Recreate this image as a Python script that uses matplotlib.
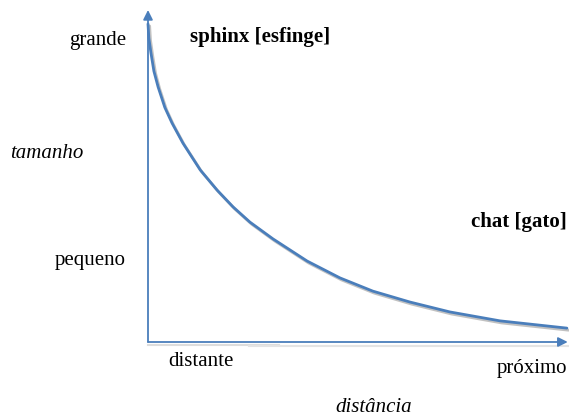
import matplotlib.pyplot as plt
import matplotlib.patheffects as pe

# curve (distance -> size, arbitrary units)
distancia = [0, 0.02, 0.07, 0.14, 0.24, 0.40, 0.57, 0.83, 1.24, 1.64, 2.02, 2.42, 2.97, 3.78, 4.56, 5.34, 6.22, 7.17, 8.36, 9.95]
tamanho = [9.63, 9.2, 8.75, 8.2, 7.72, 7.1, 6.63, 6.02, 5.21, 4.60, 4.09, 3.63, 3.12, 2.45, 1.94, 1.54, 1.21, 0.91, 0.64, 0.42]

W, H = 569, 416
fig = plt.figure(figsize=(W / 100, H / 100), dpi=100)
plt.rcParams['font.family'] = ['Liberation Serif', 'DejaVu Serif']

x0, y0 = 148, 342
ax = fig.add_axes([x0 / W, (H - y0) / H, (W - x0) / W, (y0 - 10) / H])
ax.set_xlim(0, 10)
ax.set_ylim(0, 10.05)
ax.axis('off')

blue = '#4a7ebb'
ax.plot(distancia, tamanho, color=blue, lw=2.0, solid_capstyle='round', solid_joinstyle='round', clip_on=False,
        path_effects=[pe.SimpleLineShadow(offset=(1.2, -1.5), shadow_color='#999999', alpha=0.6), pe.Normal()])

# axes with arrows
ax.annotate('', xy=(0, 10.05), xytext=(0, 0), xycoords='data',
            arrowprops=dict(arrowstyle='-|>', color=blue, lw=1.3, mutation_scale=14, shrinkA=0, shrinkB=0),
            annotation_clip=False)
ax.plot([0, 3.1], [-0.1, -0.1], color='#dddddd', lw=1.5, clip_on=False)
ax.plot([2.4, 10], [-0.12, -0.12], color='#e4e4e4', lw=1.5, clip_on=False)
ax.annotate('', xy=(9.97, 0), xytext=(0, 0), xycoords='data',
            arrowprops=dict(arrowstyle='-|>', color=blue, lw=1.3, mutation_scale=14, shrinkA=0, shrinkB=0),
            annotation_clip=False)

def ftext(px, py, s, **kw):
    fig.text(px / W, 1 - py / H, s, fontsize=15, va='center', **kw)

ftext(126, 40, 'grande', ha='right')
ftext(126, 260, 'pequeno', ha='right')
ftext(10, 153, 'tamanho', ha='left', style='italic')
ftext(190, 37, 'sphinx [esfinge]', ha='left', weight='bold')
ftext(567, 222, 'chat [gato]', ha='right', weight='bold')
ftext(168, 362, 'distante', ha='left')
ftext(567, 368, 'próximo', ha='right')
ftext(374, 408, 'distância', ha='center', style='italic')

fig.savefig('out.png', dpi=100)
